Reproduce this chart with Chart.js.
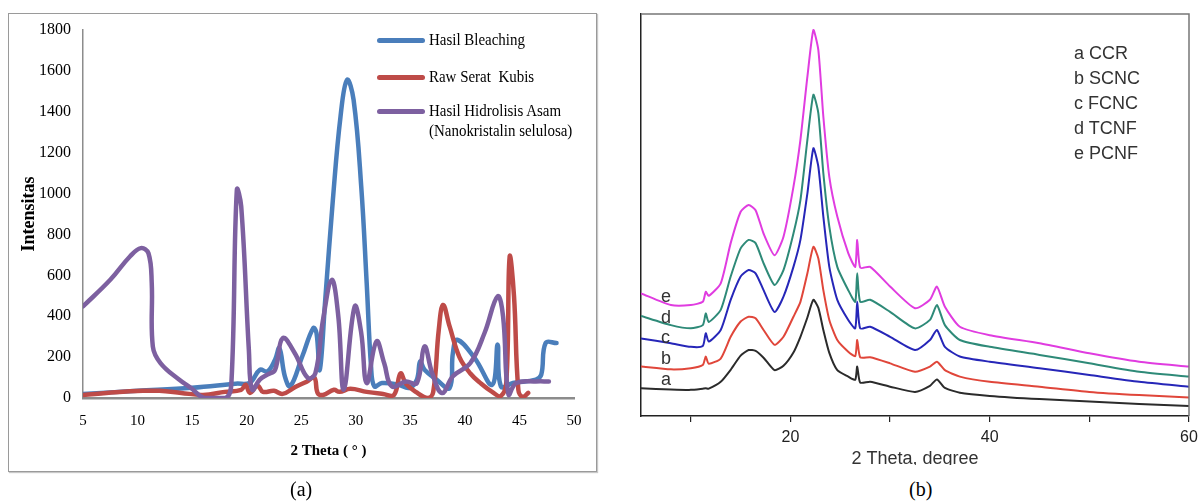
<!DOCTYPE html>
<html>
<head>
<meta charset="utf-8">
<script src="https://cdn.jsdelivr.net/npm/chart.js@4.4.1/dist/chart.umd.min.js"></script>
<style>
  body { margin: 0; width: 1198px; height: 502px; background: #fff; position: relative; overflow: hidden; }
  .abs { position: absolute; }
  #frameA { left: 8px; top: 13px; width: 587px; height: 457px; border: 1.5px solid #9a9a9a; box-shadow: 1px 1px 1px #c8c8c8; }
  #wrapB { left: 600px; top: 0; width: 598px; height: 465px; overflow: hidden; }
  .legA { font-family: "Liberation Serif", "Times New Roman", serif; font-size: 17px; color: #000; white-space: nowrap; line-height: 20px; transform: scaleX(0.88); transform-origin: 0 0; }
  .swatch { height: 5px; width: 48px; border-radius: 3px; }
  .legB { font-family: "Liberation Sans", Arial, sans-serif; font-size: 18px; color: #333; white-space: nowrap; line-height: 20px; }
  .cap { font-family: "Liberation Serif", "Times New Roman", serif; font-size: 20px; color: #000; }
</style>
</head>
<body>
<div id="frameA" class="abs"></div>
<canvas id="chartA" class="abs" width="600" height="502" style="left:0;top:0;width:600px;height:502px"></canvas>
<div id="wrapB" class="abs">
  <canvas id="chartB" width="620" height="480" style="width:620px;height:480px"></canvas>
</div>

<!-- legend (a) -->
<div class="abs swatch" style="left:377px;top:38px;background:#4a7ebb"></div>
<div class="abs legA" style="left:429px;top:30px">Hasil Bleaching</div>
<div class="abs swatch" style="left:377px;top:75px;background:#be4b48"></div>
<div class="abs legA" style="left:429px;top:67px">Raw Serat&nbsp; Kubis</div>
<div class="abs swatch" style="left:377px;top:109px;background:#7d60a0"></div>
<div class="abs legA" style="left:429px;top:101px">Hasil Hidrolisis Asam<br>(Nanokristalin selulosa)</div>

<!-- legend (b) -->
<div class="abs legB" style="left:1074px;top:43px">a CCR</div>
<div class="abs legB" style="left:1074px;top:68px">b SCNC</div>
<div class="abs legB" style="left:1074px;top:93px">c FCNC</div>
<div class="abs legB" style="left:1074px;top:118px">d TCNF</div>
<div class="abs legB" style="left:1074px;top:143px">e PCNF</div>

<!-- curve letters (b) -->
<div class="abs legB" style="left:661px;top:286px">e</div>
<div class="abs legB" style="left:661px;top:307px">d</div>
<div class="abs legB" style="left:661px;top:327px">c</div>
<div class="abs legB" style="left:661px;top:348px">b</div>
<div class="abs legB" style="left:661px;top:369px">a</div>

<div class="abs cap" style="left:290px;top:478px">(a)</div>
<div class="abs cap" style="left:909px;top:478px">(b)</div>

<script>
// ---- panel (a) data ----
const bleachTheta = [5, 10, 15, 19, 20.3, 21.2, 21.9, 22.6, 23.0, 23.5, 24.0, 25.1, 26.1, 26.4, 26.7, 27.2, 27.9, 28.6, 29.2, 29.8, 30.5, 31.0, 31.4, 31.7, 32.4, 33.9, 34.9, 35.6, 35.9, 36.3, 37.4, 38.6, 38.9, 39.3, 40.9, 42.5, 43.0, 43.3, 44.4, 46.5, 47.0, 47.4, 48.4];
const bleachInt = [20, 35, 50, 70, 75, 138, 130, 187, 244, 106, 57, 204, 342, 318, 138, 480, 969, 1376, 1556, 1458, 1034, 562, 155, 57, 73, 65, 49, 90, 179, 138, 90, 49, 220, 285, 195, 65, 261, 57, 73, 90, 114, 269, 269];

const rawTheta = [5, 8, 10.5, 12, 14, 16, 18, 19.5, 19.9, 20.3, 21, 21.5, 22.5, 23.3, 24.5, 25.5, 26.2, 26.5, 27, 28, 28.5, 29.5, 31, 32.5, 33.5, 34.1, 34.6, 35.5, 36.6, 37.1, 37.6, 38.0, 38.6, 39.5, 40.5, 41.5, 42.5, 43.3, 43.8, 44.1, 44.5, 44.9, 45.3, 45.8];
const rawInt = [15, 28, 35, 35, 25, 15, 30, 40, 65, 25, 60, 30, 35, 20, 55, 80, 100, 25, 15, 40, 30, 45, 30, 20, 15, 120, 70, 30, 0, 30, 330, 455, 350, 200, 120, 70, 30, 10, 80, 690, 500, 40, 5, 25];

const hidroTheta = [5.0, 7.5, 9.3, 10.3, 11.0, 11.3, 11.4, 12.1, 13.8, 14.9, 16.1, 18.1, 18.6, 19.1, 19.5, 20.2, 20.5, 21.2, 21.9, 22.6, 23.3, 24.4, 25.6, 26.3, 27.0, 27.8, 28.4, 28.9, 29.9, 30.5, 31.0, 31.9, 32.6, 33.3, 34.6, 35.6, 36.3, 37.0, 37.9, 38.9, 40.5, 41.8, 43.0, 43.5, 44.0, 44.7, 46.5, 47.7];
const hidroInt = [448, 578, 692, 733, 708, 562, 252, 171, 90, 49, 0, 0, 73, 1018, 937, 236, 40, 90, 114, 138, 293, 220, 98, 122, 383, 578, 399, 41, 448, 318, 73, 277, 171, 57, 81, 73, 252, 122, 24, 106, 171, 318, 497, 399, 16, 73, 81, 81];

const aThetaTicks = { min: 5, max: 50, step: 5 };
const aIntTicks = { min: 0, max: 1800, step: 200 };

// ---- panel (b) data ----
const thetaB = [5, 8, 10, 11.2, 11.5, 11.8, 13, 14, 15, 15.8, 16.5, 17.3, 18.4, 19.3, 20.3, 21, 21.7, 22.3, 22.8, 23.3, 23.9, 24.7, 25.8, 26.5, 26.7, 27, 28, 30, 32.5, 34, 34.7, 35.5, 37, 40, 45, 50, 55, 60];
const ccr  = [6.9, 6.6, 6.5, 6.8, 6.9, 6.8, 8.5, 11.5, 15.0, 16.4, 16.2, 14.5, 11.4, 12.5, 15.8, 19.7, 24.5, 28.9, 26.9, 21.4, 15.7, 11.4, 9.8, 9.0, 12.3, 8.3, 8.5, 7.3, 6.0, 7.5, 9.1, 7.0, 5.8, 5.0, 4.2, 3.6, 3.0, 2.5];
const scnc = [12.3, 11.6, 11.9, 12.7, 14.8, 13.0, 14.3, 19.7, 23.5, 24.7, 24.3, 21.4, 17.7, 19.7, 24.7, 28.4, 35.5, 42.1, 39.2, 31.3, 23.9, 18.9, 16.0, 14.9, 18.9, 14.6, 14.6, 13.1, 11.0, 12.3, 13.5, 11.4, 9.8, 8.5, 7.3, 6.0, 5.2, 4.6];
const fcnc = [19.3, 18.1, 17.2, 17.4, 20.6, 18.5, 21.4, 28.9, 34.7, 36.3, 35.5, 31.3, 25.9, 29.7, 37.1, 43.8, 55.4, 66.6, 62.0, 49.6, 37.1, 28.9, 23.9, 21.8, 28.4, 21.8, 22.2, 19.7, 16.4, 18.9, 21.4, 17.2, 14.8, 13.5, 11.9, 10.2, 8.5, 7.3];
const tcnf = [24.9, 22.6, 21.8, 22.6, 25.5, 23.4, 26.4, 34.7, 41.7, 43.8, 43.0, 38.0, 32.6, 36.3, 45.4, 53.7, 68.7, 79.9, 75.3, 60.4, 47.1, 37.1, 31.3, 28.4, 35.5, 28.4, 28.9, 25.9, 21.8, 23.9, 27.6, 22.6, 18.9, 17.2, 15.2, 13.1, 11.0, 9.8];
const pcnf = [30.5, 27.6, 27.6, 28.4, 30.9, 29.9, 33.0, 43.0, 50.8, 52.5, 51.2, 45.4, 40.0, 44.6, 57.0, 68.7, 84.4, 96.0, 91.0, 74.5, 59.5, 49.6, 40.5, 37.1, 43.8, 36.9, 37.1, 32.2, 26.8, 28.9, 32.2, 27.2, 22.2, 20.1, 18.1, 15.6, 13.5, 12.3];
const bTicks = [10, 20, 30, 40, 50, 60];
const bLabeled = [20, 40, 60];

const pts = (xs, ys) => xs.map((x, i) => ({ x: x, y: ys[i] }));

const serif = '"Liberation Serif", "Times New Roman", serif';
const sans = '"Liberation Sans", Arial, sans-serif';

// panel (a)
new Chart(document.getElementById("chartA"), {
    type: "line",
    data: {
        datasets: [
            { label: "Hasil Bleaching", data: pts(bleachTheta, bleachInt), borderColor: "#4a7ebb", order: 3 },
            { label: "Raw Serat  Kubis", data: pts(rawTheta, rawInt), borderColor: "#be4b48", order: 2 },
            { label: "Hasil Hidrolisis Asam (Nanokristalin selulosa)", data: pts(hidroTheta, hidroInt), borderColor: "#7d60a0", order: 1 },
        ],
    },
    options: {
        responsive: false,
        animation: false,
        events: [],
        layout: { padding: { left: 8, top: 30, right: 26, bottom: 30 } },
        elements: {
            line: { borderWidth: 4.5, tension: 0.4, fill: false, borderCapStyle: "round", borderJoinStyle: "round" },
            point: { radius: 0 },
        },
        plugins: { legend: { display: false }, tooltip: { enabled: false } },
        scales: {
            x: {
                type: "linear",
                min: aThetaTicks.min,
                max: aThetaTicks.max,
                ticks: { stepSize: aThetaTicks.step, padding: 14, color: "#000", font: { family: serif, size: 15 }, callback: (v) => String(v) },
                grid: { display: false, drawTicks: false },
                border: { color: "#8c8c8c", width: 2.5 },
                title: { display: true, text: "2 Theta ( ° )", color: "#000", font: { family: serif, size: 15, weight: "bold" }, padding: { top: 0, bottom: 12 } },
                afterFit: (s) => { s.height = 74; },
            },
            y: {
                min: aIntTicks.min,
                max: aIntTicks.max,
                ticks: { stepSize: aIntTicks.step, padding: 12, color: "#000", font: { family: serif, size: 16 }, callback: (v) => String(v) },
                grid: { display: false, drawTicks: false },
                border: { color: "#8c8c8c", width: 1.5 },
                title: { display: true, text: "Intensitas", color: "#000", font: { family: serif, size: 18, weight: "bold" }, padding: { top: 11, bottom: 0 } },
                afterFit: (s) => { s.width = 75; },
            },
        },
    },
});

// top and right edges of the (b) frame
const boxEdges = {
    id: "boxEdges",
    afterDraw(chart) {
        const { ctx, chartArea: a } = chart;
        ctx.save();
        ctx.strokeStyle = "#777";
        ctx.lineWidth = 1.5;
        ctx.beginPath();
        ctx.moveTo(a.left, a.top);
        ctx.lineTo(a.right, a.top);
        ctx.lineTo(a.right, a.bottom);
        ctx.stroke();
        ctx.restore();
    },
};

// panel (b)
new Chart(document.getElementById("chartB"), {
    type: "line",
    data: {
        datasets: [
            { label: "a CCR", data: pts(thetaB, ccr), borderColor: "#2b2b2b" },
            { label: "b SCNC", data: pts(thetaB, scnc), borderColor: "#e0463a" },
            { label: "c FCNC", data: pts(thetaB, fcnc), borderColor: "#2626b8" },
            { label: "d TCNF", data: pts(thetaB, tcnf), borderColor: "#2e8a78" },
            { label: "e PCNF", data: pts(thetaB, pcnf), borderColor: "#e03ce0" },
        ],
    },
    options: {
        responsive: false,
        animation: false,
        events: [],
        layout: { padding: { left: 0, top: 14, right: 31, bottom: 0 } },
        elements: {
            line: { borderWidth: 2, tension: 0.2, fill: false },
            point: { radius: 0 },
        },
        plugins: { legend: { display: false }, tooltip: { enabled: false } },
        scales: {
            x: {
                type: "linear",
                min: 5,
                max: 60,
                afterBuildTicks: (s) => { s.ticks = bTicks.map((v) => ({ value: v })); },
                ticks: {
                    padding: 6,
                    color: "#222",
                    font: { family: sans, size: 16 },
                    callback: (v) => (bLabeled.includes(v) ? String(v) : ""),
                },
                grid: { display: true, drawOnChartArea: false, drawTicks: true, tickLength: 6, color: "#222", lineWidth: 1.2 },
                border: { color: "#222", width: 1.5 },
                title: { display: true, text: "2 Theta, degree", color: "#333", font: { family: sans, size: 18 }, padding: { top: 0, bottom: 10 } },
                afterFit: (s) => { s.height = 64; },
            },
            y: {
                min: 0,
                max: 100,
                ticks: { display: false },
                grid: { display: false, drawTicks: false },
                border: { color: "#222", width: 1.5 },
                afterFit: (s) => { s.width = 41; },
            },
        },
    },
    plugins: [boxEdges],
});
</script>
</body>
</html>
